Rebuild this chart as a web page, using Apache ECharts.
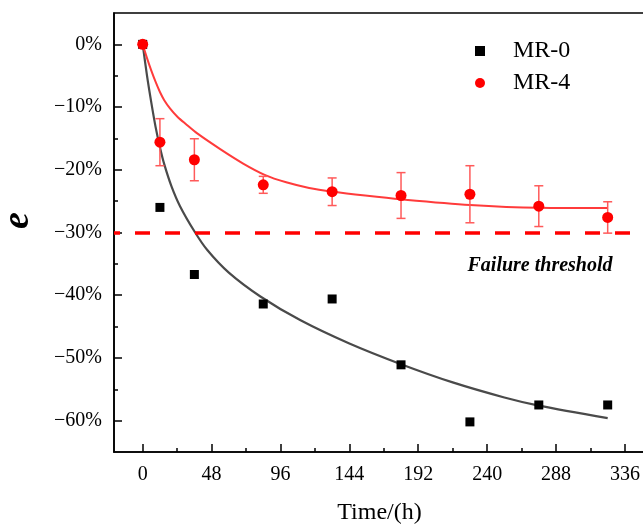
<!DOCTYPE html>
<html><head><meta charset="utf-8">
<script src="https://cdn.jsdelivr.net/npm/echarts@6/dist/echarts.min.js"></script>
<style>html,body{margin:0;padding:0;background:#fff}#c{width:643px;height:524px}</style>
</head><body><div id="c"></div>
<script>
const times = [0, 12, 36, 84, 132, 180, 228, 276, 324];
const mr0 = [0, -26.0, -36.7, -41.4, -40.6, -51.1, -60.2, -57.5, -57.5];
const mr4 = [0, -15.6, -18.4, -22.4, -23.5, -24.1, -23.9, -25.8, -27.6];
const mr4Err = [0, 3.75, 3.35, 1.35, 2.2, 3.65, 4.55, 3.25, 2.5];
const fit0T = [0, 3, 6, 9, 12, 15, 20, 26, 36, 45, 60, 82, 110, 144, 180, 216, 252, 276, 324];
const fit0V = [0, -5.0, -9.3, -13.2, -16.4, -19.1, -22.6, -25.8, -29.8, -32.8, -36.4, -40.2, -44.0, -47.7, -51.0, -53.9, -56.3, -57.6, -59.6];
const fit4T = [0, 3, 6, 9, 12, 15, 19, 24, 30, 38, 54, 70, 85, 100, 116, 133, 155, 180, 228, 276, 324];
const fit4V = [0, -2.2, -4.2, -6.0, -7.6, -8.9, -10.2, -11.5, -12.7, -14.2, -16.7, -19.0, -20.8, -22.0, -22.9, -23.5, -24.1, -24.7, -25.6, -26.05, -26.1];
const threshold = -30;
const xTicks = [0, 48, 96, 144, 192, 240, 288, 336];
const xMinor = [24, 72, 120, 168, 216, 264, 312];
const yTicks = [0, -10, -20, -30, -40, -50, -60];
const yMinor = [-5, -15, -25, -35, -45, -55];
const seriesNames = ['MR-0', 'MR-4'];
const xName = 'Time/(h)';
const yName = 'e';
const thresholdLabel = 'Failure threshold';

const FONT = 'Liberation Serif, Times New Roman, serif';
const chart = echarts.init(document.getElementById('c'), null, {renderer: 'canvas'});
const fmtY = v => (v < 0 ? '\u2212' + Math.abs(v) : String(v)) + '%';

const baseX = {type: 'value', min: -20, max: 350, gridIndex: 0, splitLine: {show: false}};
const baseY = {type: 'value', min: -65, max: 5, gridIndex: 0, splitLine: {show: false}};

const option = {
  animation: false,
  backgroundColor: '#fff',
  grid: {left: 114, top: 13, width: 531, height: 439, containLabel: false, outerBoundsMode: 'none',
         show: true, borderColor: '#000', borderWidth: 1.6, backgroundColor: 'transparent'},
  legend: {
    orient: 'vertical', left: 470, top: 34,
    itemWidth: 10, itemHeight: 10, itemGap: 8,
    data: [{name: seriesNames[0], icon: 'rect'}, {name: seriesNames[1], icon: 'circle'}],
    textStyle: {fontFamily: FONT, fontSize: 24, color: '#000', padding: [0, 0, 0, 23]}
  },
  xAxis: [
    Object.assign({}, baseX, {
      position: 'bottom',
      name: xName, nameLocation: 'middle', nameGap: 49,
      nameTextStyle: {fontFamily: FONT, fontSize: 24, color: '#000'},
      axisLine: {show: true, onZero: false, lineStyle: {color: '#000', width: 1.6}},
      axisTick: {show: true, inside: true, length: 8, customValues: xTicks, lineStyle: {color: '#000', width: 1.5}},
      axisLabel: {show: true, customValues: xTicks, margin: 13, fontFamily: FONT, fontSize: 20, color: '#000'}
    }),
    Object.assign({}, baseX, {
      position: 'bottom',
      axisLine: {show: false, onZero: false},
      axisTick: {show: true, inside: true, length: 4, customValues: xMinor, lineStyle: {color: '#000', width: 1.5}},
      axisLabel: {show: false}
    })
  ],
  yAxis: [
    Object.assign({}, baseY, {
      position: 'left',
      name: yName, nameLocation: 'middle', nameGap: 77,
      nameTextStyle: {fontFamily: FONT, fontSize: 38, fontStyle: 'italic', fontWeight: 'bold', color: '#000', padding: [0, 0, 0, 24]},
      axisLine: {show: true, onZero: false, lineStyle: {color: '#000', width: 1.6}},
      axisTick: {show: true, inside: true, length: 8, customValues: yTicks, lineStyle: {color: '#000', width: 1.5}},
      axisLabel: {show: true, customValues: yTicks, margin: 12, fontFamily: FONT, fontSize: 20, color: '#000', formatter: fmtY}
    }),
    Object.assign({}, baseY, {
      position: 'left',
      axisLine: {show: false, onZero: false},
      axisTick: {show: true, inside: true, length: 4, customValues: yMinor, lineStyle: {color: '#000', width: 1.5}},
      axisLabel: {show: false}
    })
  ],
  graphic: [{
    type: 'text', x: 540, y: 266, z: 10,
    style: {text: thresholdLabel, font: 'italic bold 20px ' + FONT, fill: '#000', align: 'center', verticalAlign: 'middle'}
  }],
  series: [
    {
      name: 'fit0', type: 'line', smooth: 0.3, showSymbol: false, silent: true, z: 2,
      lineStyle: {color: '#4a4a4a', width: 2.2},
      data: fit0T.map((t, i) => [t, fit0V[i]])
    },
    {
      name: 'fit4', type: 'line', smooth: 0.3, showSymbol: false, silent: true, z: 2,
      lineStyle: {color: '#ff3b3b', width: 2},
      data: fit4T.map((t, i) => [t, fit4V[i]]),
      markLine: {
        silent: true, symbol: 'none', animation: false,
        lineStyle: {color: '#ff0000', width: 3.5, type: [15, 15], dashOffset: 9, opacity: 1},
        label: {show: false},
        data: [{yAxis: threshold}]
      }
    },
    {
      name: seriesNames[0], type: 'scatter', symbol: 'rect', symbolSize: 9, z: 4,
      itemStyle: {color: '#000', opacity: 1},
      data: times.map((t, i) => [t, mr0[i]])
    },
    {
      name: 'err4', type: 'custom', z: 3, silent: true,
      data: times.map((t, i) => [t, mr4[i], mr4Err[i]]),
      renderItem: function (params, api) {
        const x = api.value(0), y = api.value(1), e = api.value(2);
        if (!e) return null;
        const top = api.coord([x, y + e]);
        const bot = api.coord([x, y - e]);
        const w = 4.5;
        const st = {stroke: '#ff5a5a', lineWidth: 1.5};
        return {type: 'group', children: [
          {type: 'line', shape: {x1: top[0], y1: top[1], x2: bot[0], y2: bot[1]}, style: st},
          {type: 'line', shape: {x1: top[0] - w, y1: top[1], x2: top[0] + w, y2: top[1]}, style: st},
          {type: 'line', shape: {x1: bot[0] - w, y1: bot[1], x2: bot[0] + w, y2: bot[1]}, style: st}
        ]};
      }
    },
    {
      name: seriesNames[1], type: 'scatter', symbol: 'circle', symbolSize: 11, z: 5,
      itemStyle: {color: '#ff0000', opacity: 1},
      data: times.map((t, i) => [t, mr4[i]])
    }
  ]
};
chart.setOption(option);
</script></body></html>
